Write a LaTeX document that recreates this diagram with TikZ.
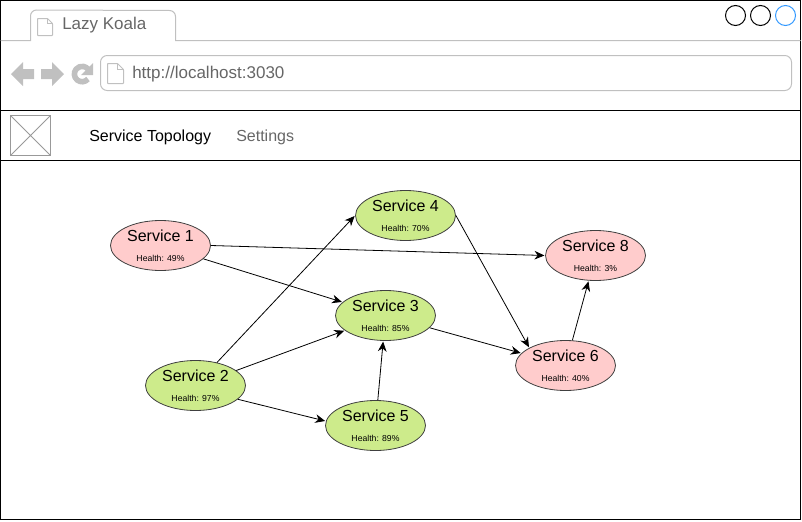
\documentclass[tikz,border=0pt]{standalone}
\usepackage{fontspec}
\setmainfont{Liberation Sans}
\usetikzlibrary{shapes.geometric,arrows.meta}
\definecolor{chromegray}{HTML}{C0C0C0}
\definecolor{tabtext}{HTML}{666666}
\definecolor{sick}{HTML}{FFCCCC}
\definecolor{healthy}{HTML}{CDEB8B}
\definecolor{dotblue}{HTML}{3399FF}
\tikzset{
    service/.style={ellipse,draw=black!75,line width=0.6pt,minimum width=75pt,minimum height=37.5pt,inner sep=0pt,align=center},
    sick/.style={service,fill=sick},
    healthy/.style={service,fill=healthy},
    link/.style={draw,-{Stealth[length=7.5pt,width=6.5pt]},line width=0.6pt,shorten >=0.5pt},
    bar/.style={draw=chromegray,line width=0.75pt},
    pageicon/.style={bar,fill=white,rounded corners=0.5pt},
    navicon/.style={fill=chromegray,draw=none},
    dot/.style={circle,draw,line width=0.75pt,minimum size=15pt,inner sep=0pt},
    menu/.style={font=\fontsize{12}{14}\selectfont,inner sep=0pt},
}
\newcommand{\svc}[2]{{\fontsize{12}{12}\selectfont #1}\\[3pt]{\fontsize{6.5}{7}\selectfont Health: #2\%}}
\begin{document}
\begin{tikzpicture}[x=0.75pt,y=-0.75pt]
    \useasboundingbox (0,0) rectangle (802,521);
    \draw[line width=0.75pt] (0.5,0.5) rectangle (800.5,519.5);

    % tab and address bar
    \draw[bar] (0.5,40.5) -- (30.5,40.5) -- (30.5,16) arc (180:270:6) -- (169.5,10.5) arc (-90:0:6) -- (175.5,40.5) -- (800.5,40.5);
    \draw[bar,rounded corners=5pt] (100.5,55.5) rectangle (791.5,90.5);
    \node[font=\fontsize{12.75}{15}\selectfont,text=tabtext,anchor=west,inner sep=0pt] (title) at (62,25.5) {Lazy Koala};
    \node[font=\fontsize{12.75}{15}\selectfont,text=tabtext,anchor=west,inner sep=0pt] (url) at (132,74) {http://localhost:3030};

    % page icons
    \draw[pageicon] (37.5,18.5) -- (47.5,18.5) -- (52.5,23.5) -- (52.5,35.5) -- (37.5,35.5) -- cycle;
    \draw[bar] (47.5,18.5) -- (47.5,23.5) -- (52.5,23.5);
    \draw[pageicon] (107.5,63.5) -- (117.5,63.5) -- (123.5,69.5) -- (123.5,83.5) -- (107.5,83.5) -- cycle;
    \draw[bar] (117.5,63.5) -- (117.5,69.5) -- (123.5,69.5);

    % back, forward, reload
    \fill[navicon] (11,74) -- (23,62) -- (23,69) -- (34,69) -- (34,79) -- (23,79) -- (23,86) -- cycle;
    \fill[navicon] (64,74) -- (52,62) -- (52,69) -- (41,69) -- (41,79) -- (52,79) -- (52,86) -- cycle;
    \draw[chromegray,line width=4.2pt] (88,79) arc (40:320:7.7);
    \fill[navicon] (93,63) -- (93,75) -- (81,75) -- cycle;

    % window buttons
    \node[dot] (btna) at (735.5,15.5) {};
    \node[dot] (btnb) at (760.5,15.5) {};
    \node[dot,draw=dotblue] (btnc) at (785.5,15.5) {};

    % menu
    \draw[line width=0.75pt] (0.5,110.5) -- (800.5,110.5);
    \draw[line width=0.75pt] (0.5,160.5) -- (800.5,160.5);
    \draw[draw=black!40,line width=0.75pt] (10.5,115.5) rectangle (50.5,155.5);
    \draw[draw=black!40,line width=0.6pt] (10.5,115.5) -- (50.5,155.5) (50.5,115.5) -- (10.5,155.5);
    \node[menu,anchor=west] (topology) at (89,137) {Service Topology};
    \node[menu,anchor=west,text=tabtext] (settings) at (236,137) {Settings};

    % services
    \node[sick] (s1) at (160.5,245.5) {\svc{Service 1}{49}};
    \node[healthy] (s2) at (195.5,385.5) {\svc{Service 2}{97}};
    \node[healthy] (s3) at (385.5,315.5) {\svc{Service 3}{85}};
    \node[healthy] (s4) at (405.5,215.5) {\svc{Service 4}{70}};
    \node[healthy] (s5) at (375.5,425.5) {\svc{Service 5}{89}};
    \node[sick] (s6) at (565.5,365.5) {\svc{Service 6}{40}};
    \node[sick] (s8) at (595.5,255.5) {\svc{Service 8}{3}};

    \path[link] (s1) -- (s3);
    \path[link] (s1.east) -- (s8.west);
    \path[link] (s2) -- (s3);
    \path[link] (s2.47) -- (s4.west);
    \path[link] (s2.-18) -- (s5.175);
    \path[link] (s5) -- (s3);
    \path[link] (s3) -- (s6);
    \path[link] (s4.east) -- (s6.154);
    \path[link] (s6) -- (s8);
\end{tikzpicture}
\end{document}
